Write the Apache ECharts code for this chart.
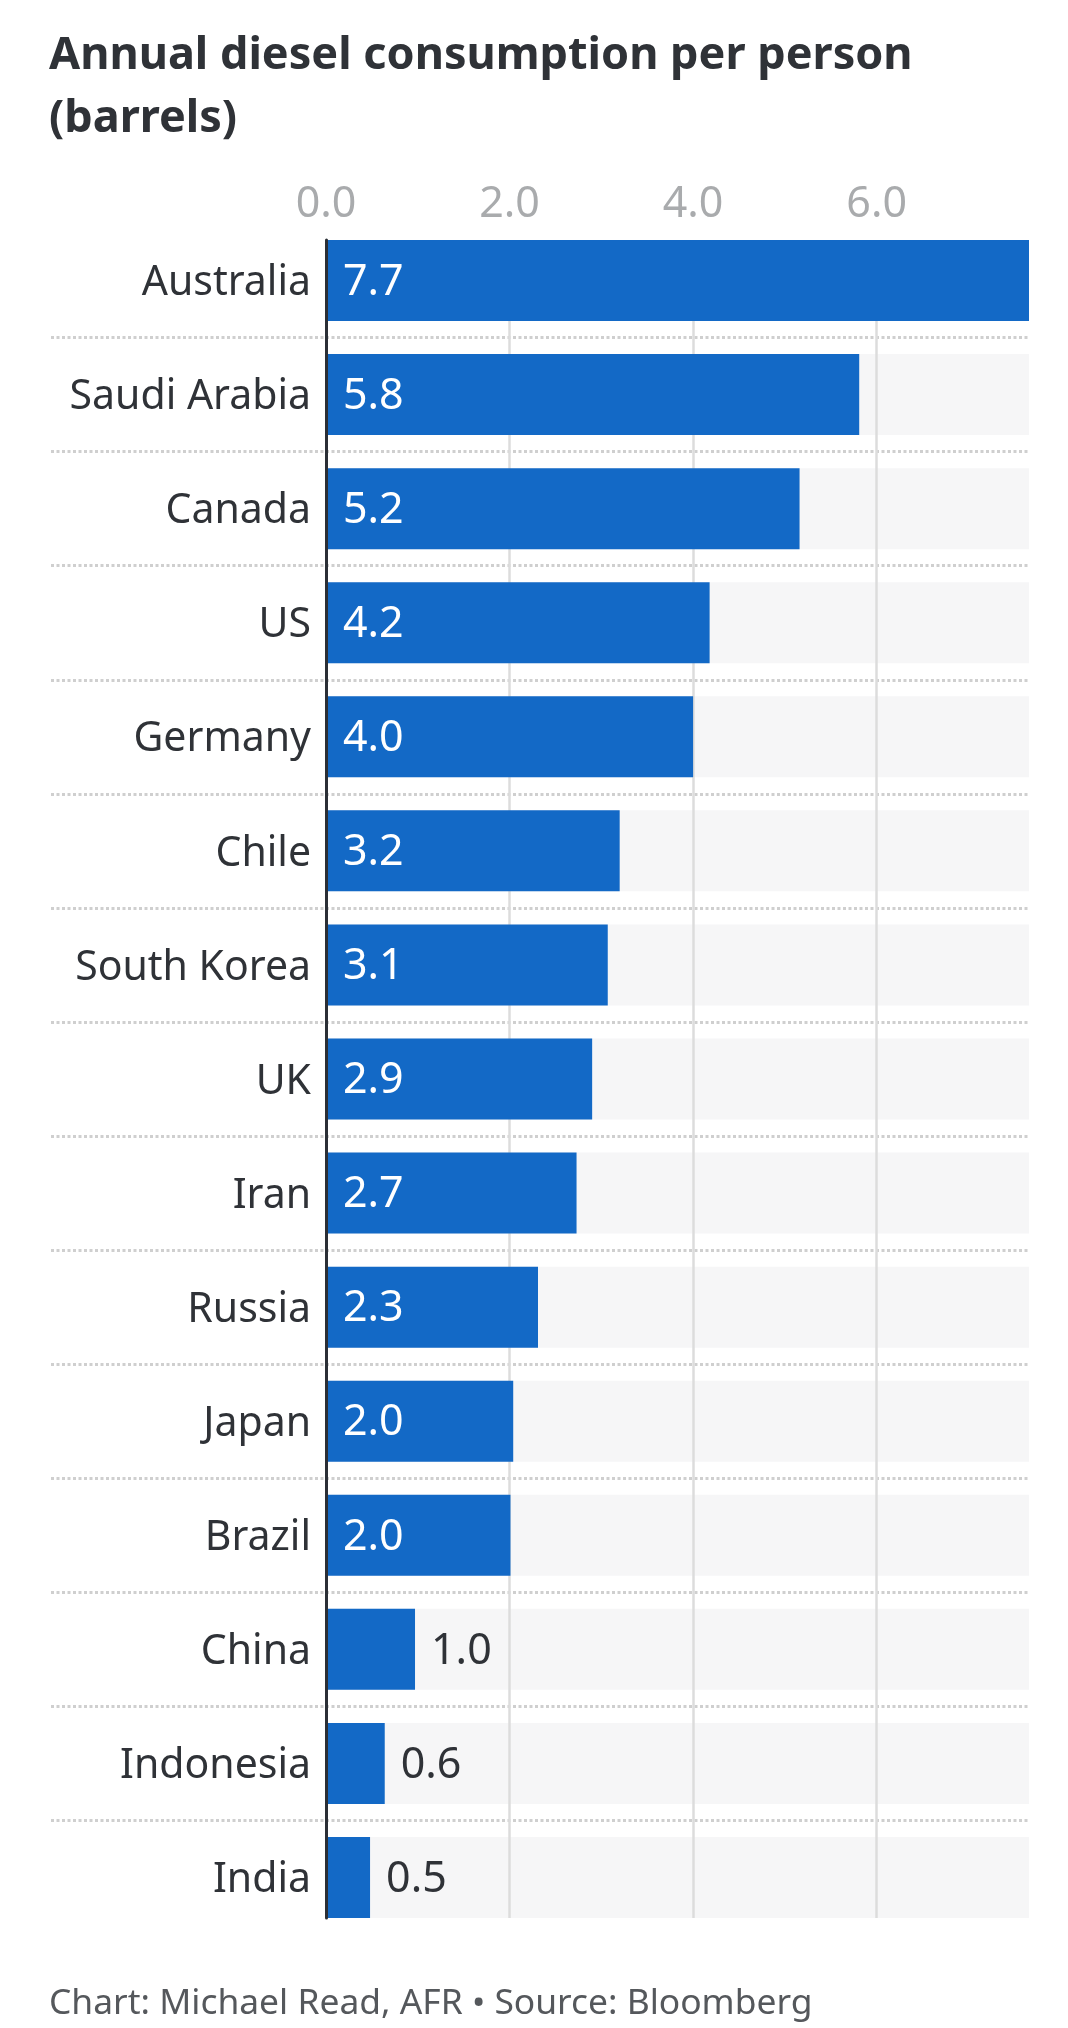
<!DOCTYPE html>
<html>
<head>
<meta charset="utf-8">
<title>Annual diesel consumption per person</title>
<script src="https://cdn.jsdelivr.net/npm/echarts@6/dist/echarts.min.js"></script>
<style>
    html, body { margin: 0; padding: 0; background: #fff; }
    #chart { width: 1068px; height: 2028px; }
</style>
</head>
<body>
<div id="chart"></div>
<script>
var countries = ["Australia", "Saudi Arabia", "Canada", "US", "Germany", "Chile", "South Korea", "UK",
    "Iran", "Russia", "Japan", "Brazil", "China", "Indonesia", "India"];
var barrels = [7.66, 5.81, 5.16, 4.18, 4.00, 3.20, 3.07, 2.90, 2.73, 2.31, 2.04, 2.01, 0.97, 0.64, 0.48];
var titleText = "Annual diesel consumption per person\n(barrels)";
var footerText = "Chart: Michael Read, AFR \u2022 Source: Bloomberg";

var FONT = "Noto Sans";
var DARK = "#2f3237";
var AXIS_MAX = 7.66;

var chart = echarts.init(document.getElementById("chart"), null, {renderer: "canvas"});

// small bars carry their label outside
var barData = barrels.map(function (v) {
    if (v < 1.5) {
        return {value: v, label: {position: "right", color: DARK, distance: 16}};
    }
    return {value: v};
});

var option = {
    backgroundColor: "#ffffff",
    animation: false,
    title: [
        {
            text: titleText, left: 44, top: 20,
            textStyle: {fontFamily: FONT, fontSize: 45, fontWeight: 700, color: DARK, lineHeight: 63}
        },
        {
            text: footerText, left: 44, top: 1981,
            textStyle: {fontFamily: FONT, fontSize: 35.4, fontWeight: 400, color: "#55585c"}
        }
    ],
    grid: [
        // bars and country labels
        {left: 326, right: 39, top: 223.5, height: 1711},
        // value axis, gridlines and baseline run from first bar top to last bar bottom
        {left: 326, right: 39, top: 240, height: 1678},
        // dotted separators run under the country labels too
        {left: 51, right: 39, top: 223.5, height: 1711}
    ],
    xAxis: [
        {gridIndex: 0, type: "value", min: 0, max: AXIS_MAX, show: false},
        {
            gridIndex: 1, type: "value", position: "top", min: 0, max: AXIS_MAX, interval: 2, z: 2,
            axisLine: {show: false},
            axisTick: {show: false},
            axisLabel: {
                showMaxLabel: false, margin: 14, fontFamily: FONT, fontSize: 43, color: "#a9abad",
                formatter: function (v) { return v.toFixed(1); }
            },
            splitLine: {show: true, showMinLine: false, showMaxLine: false, lineStyle: {color: "#dcdcdc", width: 2.5}}
        },
        {gridIndex: 2, type: "value", min: 0, max: 1, show: false}
    ],
    yAxis: [
        {
            gridIndex: 0, type: "category", inverse: true, data: countries,
            axisLine: {show: false},
            axisTick: {show: false},
            splitLine: {show: false},
            axisLabel: {
                margin: 15,
                formatter: function (name) { return "{n|" + name + "}"; },
                rich: {n: {padding: [6, 0, 0, 0], fontFamily: FONT, fontSize: 41, color: DARK}}
            }
        },
        {
            gridIndex: 1, type: "category", inverse: true, data: countries, z: 4,
            axisLine: {show: true, lineStyle: {color: "#2b2f36", width: 3}},
            axisTick: {show: false},
            axisLabel: {show: false},
            splitLine: {show: false}
        },
        {
            gridIndex: 2, type: "category", inverse: true, data: countries, z: 1,
            axisLine: {show: false},
            axisTick: {show: false},
            axisLabel: {show: false},
            splitLine: {
                show: true, showMinLine: false, showMaxLine: false,
                lineStyle: {color: "#cfcfcf", width: 3, type: [3, 2.5]}
            }
        }
    ],
    series: [
        {
            // grey track, sits under the gridlines
            name: "track", type: "bar", xAxisIndex: 0, yAxisIndex: 0, z: 1,
            barWidth: 81, barGap: "-100%", data: barrels,
            itemStyle: {opacity: 0},
            showBackground: true,
            backgroundStyle: {color: "#f6f6f7"},
            silent: true
        },
        {
            name: "Barrels per person", type: "bar", xAxisIndex: 0, yAxisIndex: 0, z: 3,
            barWidth: 81, barGap: "-100%", data: barData,
            itemStyle: {color: "#1369c6"},
            label: {
                show: true, position: "insideLeft", distance: 17, offset: [0, 2], color: "#ffffff",
                fontFamily: FONT, fontSize: 43,
                formatter: function (p) { return p.value.toFixed(1); }
            }
        }
    ]
};

chart.setOption(option);
</script>
</body>
</html>
